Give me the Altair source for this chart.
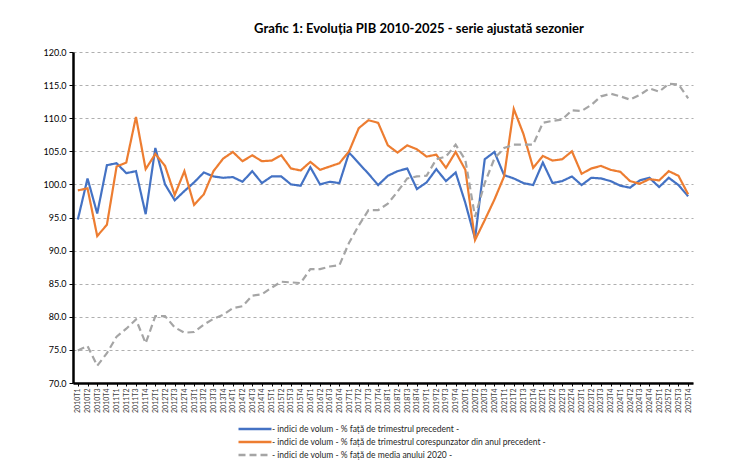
import altair as alt
import pandas as pd

years = list(range(2010, 2026))
quarters = [f"{y}T{q}" for y in years for q in range(1, 5)]

s_qoq = "- indici de volum - % față de trimestrul precedent -"
s_yoy = "- indici de volum - % față de trimestrul corespunzator din anul precedent -"
s_base = "- indici de volum - % față de media anului 2020 -"

blue = [94.7, 100.9, 95.6, 102.9, 103.2, 101.7, 102.0, 95.5, 105.5, 100.0,
        97.6, 99.0, 100.3, 101.8, 101.2, 101.0, 101.1, 100.4, 102.0, 100.2,
        101.2, 101.2, 100.0, 99.8, 102.6, 100.0, 100.4, 100.2, 104.8, 103.2,
        101.6, 99.9, 101.3, 102.0, 102.4, 99.3, 100.3, 102.3, 100.5, 101.8,
        97.2, 91.8, 103.8, 104.9, 101.4, 100.9, 100.2, 99.9, 103.3, 100.2,
        100.5, 101.2, 99.9, 101.0, 100.9, 100.5, 99.8, 99.5, 100.6, 101.0,
        99.6, 101.0, 99.9, 98.2]

orange = [99.1, 99.4, 92.2, 93.9, 102.7, 103.3, 110.2, 102.3, 104.6, 102.8,
          98.4, 102.0, 96.9, 98.5, 102.0, 103.9, 104.9, 103.5, 104.4, 103.5,
          103.6, 104.4, 102.4, 102.1, 103.4, 102.2, 102.7, 103.2, 105.0, 108.5,
          109.7, 109.3, 105.9, 104.8, 105.9, 105.3, 104.2, 104.5, 102.5, 104.9,
          102.2, 91.6, 94.6, 97.7, 101.2, 111.4, 107.6, 102.5, 104.3, 103.6,
          103.8, 105.0, 101.6, 102.4, 102.8, 102.2, 101.9, 100.5, 100.1, 100.8,
          100.6, 102.0, 101.3, 98.5]

grey = [74.9, 75.6, 72.6, 74.5, 77.0, 78.2, 79.6, 76.0, 80.1, 80.1,
        78.4, 77.6, 77.7, 78.8, 79.7, 80.3, 81.3, 81.6, 83.2, 83.4,
        84.4, 85.3, 85.2, 85.1, 87.2, 87.2, 87.6, 87.8, 91.2, 93.8,
        96.1, 96.1, 97.1, 98.9, 100.9, 101.2, 101.3, 103.8, 104.2, 106.0,
        103.7, 95.1, 100.2, 103.9, 105.5, 106.0, 106.0, 106.0, 109.3, 109.6,
        109.8, 111.2, 111.1, 112.0, 113.3, 113.7, 113.3, 112.8, 113.5, 114.5,
        114.0, 115.2, 115.1, 113.0]

rows = []
for name, vals in [(s_qoq, blue), (s_yoy, orange), (s_base, grey)]:
    for q, v in zip(quarters, vals):
        rows.append({"trimestru": q, "valoare": v, "serie": name})
df = pd.DataFrame(rows)

series_order = [s_qoq, s_yoy, s_base]
colors = ["#4472C4", "#ED7D31", "#A5A5A5"]
dashes = [[1, 0], [1, 0], [7, 4]]

chart = alt.Chart(df).mark_line(strokeWidth=2.2).encode(
    x=alt.X("trimestru:N", sort=quarters,
            scale=alt.Scale(type="point", padding=0.5),
            axis=alt.Axis(title=None, labelAngle=270, labelFontSize=7,
                          labelColor="#404040", labelFont="Lato",
                          domainColor="black", domainWidth=2.5,
                          tickColor="black", tickSize=3, labelPadding=2,
                          grid=False)),
    y=alt.Y("valoare:Q",
            scale=alt.Scale(domain=[70, 120], nice=False, zero=False),
            axis=alt.Axis(title=None, values=list(range(70, 121, 5)), format=".1f",
                          labelFontSize=9, labelColor="black", labelFont="Lato",
                          domainColor="black", domainWidth=2.5,
                          tickColor="black", tickSize=4, labelPadding=3,
                          grid=True, gridDash=[3, 3], gridColor="#9a9a9a",
                          gridWidth=0.8)),
    color=alt.Color("serie:N", scale=alt.Scale(domain=series_order, range=colors),
                    sort=series_order,
                    legend=alt.Legend(title=None, orient="none", legendX=175, legendY=370,
                                      direction="vertical", symbolType="M-3,0H3",
                                      symbolSize=121, symbolStrokeWidth=2.5,
                                      labelFontSize=8.5, labelFont="Lato",
                                      labelColor="#262626", rowPadding=1,
                                      labelOffset=10, labelLimit=600)),
    strokeDash=alt.StrokeDash("serie:N", scale=alt.Scale(domain=series_order, range=dashes),
                              sort=series_order, legend=None),
    order=alt.Order("serie:N"),
).properties(
    width=620, height=331,
    title=alt.TitleParams("Grafic 1: Evoluția PIB 2010-2025 - serie ajustată sezonier",
                          fontSize=13, font="Lato", fontWeight="bold", color="black",
                          anchor="middle", dx=36, offset=12),
    autosize=alt.AutoSizeParams(type="none"),
    padding={"left": 65, "top": 44, "right": 48, "bottom": 80},
).configure_view(stroke=None)

chart.save("out.html", embed_options={"renderer": "svg", "actions": False})
